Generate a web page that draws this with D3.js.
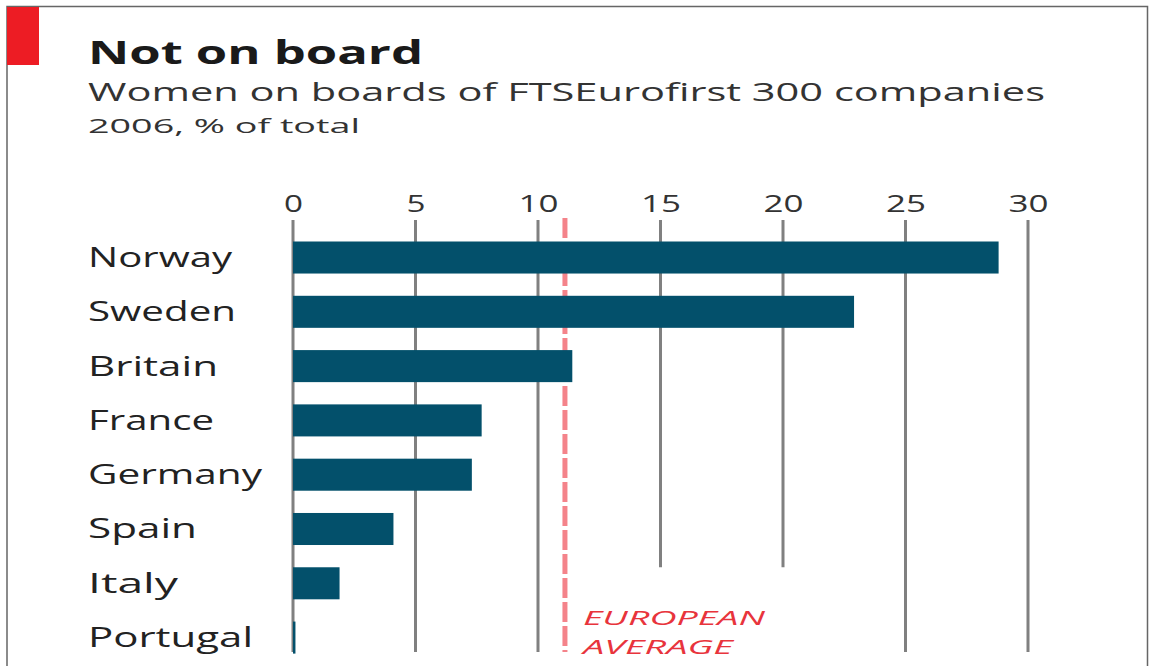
<!DOCTYPE html>
<html>
<head>
<meta charset="utf-8">
<script src="https://cdn.jsdelivr.net/npm/d3@7"></script>
<style>
  body { margin: 0; background: #fff; }
  text { font-family: "Open Sans", "DejaVu Sans", sans-serif; }
</style>
</head>
<body>
<script>
// data
const countries = ['Norway', 'Sweden', 'Britain', 'France', 'Germany', 'Spain', 'Italy', 'Portugal'];
const share = [28.8, 22.9, 11.4, 7.7, 7.3, 4.1, 1.9, 0.1];
const ticks = [0, 5, 10, 15, 20, 25, 30];
const europeanAverage = 11.1;

const width = 1149, height = 666;

const svg = d3.select('body').append('svg')
  .attr('width', width)
  .attr('height', height);

const x = d3.scaleLinear().domain([0, 30]).range([293, 1028]);
const y = d3.scaleBand().domain(countries).range([241.5, 653.6]).paddingInner(0.41);

// frame + red tab
svg.append('path')
  .attr('d', 'M7,666 V6.5 H1147.5 V666')
  .attr('fill', 'none')
  .attr('stroke', '#666')
  .attr('stroke-width', 1.5);
svg.append('rect')
  .attr('x', 7).attr('y', 7).attr('width', 32).attr('height', 58)
  .attr('fill', '#ed1c24');

// headings (stretched to match the wide type of the original)
const heads = [
  {t: 'Not on board', y: 64, size: 33, w: 335, weight: 700, color: '#1a1a1a'},
  {t: 'Women on boards of FTSEurofirst 300 companies', y: 101, size: 25, w: 957, weight: 400, color: '#333'},
  {t: '2006, % of total', y: 133, size: 19.5, w: 272, weight: 400, color: '#333'}
];
svg.selectAll('text.head').data(heads).join('text')
  .attr('class', 'head')
  .attr('x', 88)
  .attr('y', d => d.y)
  .attr('font-size', d => d.size)
  .attr('font-weight', d => d.weight)
  .attr('fill', d => d.color)
  .attr('textLength', d => d.w)
  .attr('lengthAdjust', 'spacingAndGlyphs')
  .text(d => d.t);

// gridlines
const shortTicks = [15, 20];
svg.append('g').selectAll('line').data(ticks).join('line')
  .attr('x1', d => x(d)).attr('x2', d => x(d))
  .attr('y1', 220)
  .attr('y2', d => shortTicks.includes(d) ? y('Italy') : 652)
  .attr('stroke', '#808080')
  .attr('stroke-width', 3);

// tick labels
const axis = svg.append('g')
  .attr('transform', 'translate(0,220)')
  .call(d3.axisTop(x).tickValues(ticks).tickSize(0).tickPadding(8));
axis.select('.domain').remove();
axis.selectAll('text')
  .attr('font-size', 24)
  .attr('font-family', '"Open Sans", "DejaVu Sans", sans-serif')
  .attr('fill', '#333')
  .attr('textLength', d => String(d).length === 1 ? 19 : 40)
  .attr('lengthAdjust', 'spacingAndGlyphs');

// european average (sits behind the bars)
svg.append('line')
  .attr('x1', x(europeanAverage)).attr('x2', x(europeanAverage))
  .attr('y1', 218).attr('y2', 652)
  .attr('stroke', '#f4838a')
  .attr('stroke-width', 5)
  .attr('stroke-dasharray', '20,4');

const avgLabel = [{t: 'EUROPEAN', y: 625, w: 182}, {t: 'AVERAGE', y: 654, w: 150}];
svg.append('g').selectAll('text').data(avgLabel).join('text')
  .attr('x', x(europeanAverage) + 18)
  .attr('y', d => d.y)
  .attr('font-size', 20.5)
  .attr('font-style', 'italic')
  .attr('fill', '#e8343c')
  .attr('textLength', d => d.w)
  .attr('lengthAdjust', 'spacingAndGlyphs')
  .text(d => d.t);

// bars
svg.append('g').selectAll('rect').data(share).join('rect')
  .attr('x', x(0))
  .attr('y', (d, i) => y(countries[i]))
  .attr('width', d => x(d) - x(0))
  .attr('height', y.bandwidth())
  .attr('fill', '#03506b');

// country labels
const labelW = {Norway: 144, Sweden: 148, Britain: 130, France: 126, Germany: 174, Spain: 109, Italy: 90, Portugal: 165};
svg.append('g').selectAll('text').data(countries).join('text')
  .attr('x', 88)
  .attr('y', d => y(d) + y.bandwidth() / 2 + 9.5)
  .attr('font-size', 26.5)
  .attr('fill', '#222')
  .attr('textLength', d => labelW[d])
  .attr('lengthAdjust', 'spacingAndGlyphs')
  .text(d => d);
</script>
</body>
</html>
